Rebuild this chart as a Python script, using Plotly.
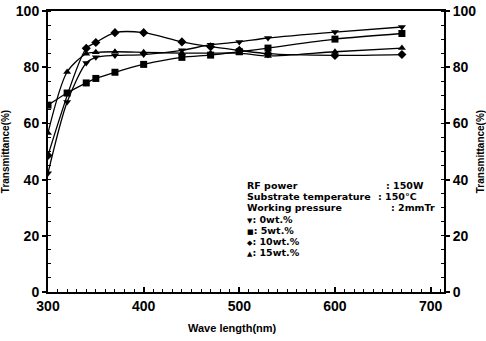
import plotly.graph_objects as go

# ---- data ----
x_0wt = [300, 320, 340, 350, 370, 400, 440, 470, 500, 530, 600, 670]
y_0wt = [42.3, 67.6, 81.5, 83.5, 84.2, 84.5, 86.0, 88.0, 89.0, 90.4, 92.5, 94.3]

x_5wt = [300, 320, 340, 350, 370, 400, 440, 470, 500, 530, 600, 670]
y_5wt = [66.5, 70.8, 74.4, 76.0, 78.2, 81.0, 83.5, 84.3, 85.5, 86.8, 90.0, 92.0]

x_10wt = [300, 340, 350, 370, 400, 440, 470, 500, 530, 600, 670]
y_10wt = [48.6, 86.7, 88.8, 92.3, 92.3, 89.0, 87.3, 86.0, 84.8, 84.2, 84.5]

x_15wt = [300, 320, 340, 350, 370, 400, 440, 470, 500, 530, 600, 670]
y_15wt = [56.6, 78.3, 84.8, 85.3, 85.5, 85.3, 85.0, 85.0, 85.0, 84.0, 85.5, 86.8]

y_ticks = [0, 20, 40, 60, 80, 100]
x_ticks = [300, 400, 500, 600, 700]

series = [
    (x_0wt, y_0wt, "triangle-down", "0wt.%"),
    (x_5wt, y_5wt, "square", "5wt.%"),
    (x_10wt, y_10wt, "diamond", "10wt.%"),
    (x_15wt, y_15wt, "triangle-up", "15wt.%"),
]

FONT = "Liberation Sans, Arial, sans-serif"
TFONT = "DejaVu Sans, sans-serif"

fig = go.Figure()
for xs, ys, sym, name in series:
    fig.add_trace(go.Scatter(
        x=xs, y=ys, mode="lines+markers", name=name,
        line=dict(color="black", width=1.3, shape="spline", smoothing=0.8),
        marker=dict(symbol=sym, size=7, color="black"),
        showlegend=False,
    ))

# invisible trace to anchor the right-hand axis
fig.add_trace(go.Scatter(x=x_0wt, y=y_0wt, yaxis="y2", mode="lines",
                         opacity=0, showlegend=False, hoverinfo="skip"))

axis_common = dict(
    showline=True, linecolor="black", linewidth=2,
    showgrid=False, zeroline=False, automargin=False,
    tickfont=dict(family=FONT, size=14, color="black"),
    ticks="outside", ticklen=4, tickwidth=1.5, tickcolor="black",
)

fig.update_layout(
    width=486, height=341,
    margin=dict(l=48, r=42, t=11, b=49),
    paper_bgcolor="white", plot_bgcolor="white",
    font=dict(family=FONT, color="black"),
    xaxis=dict(
        **{**axis_common, "ticks": "inside", "ticklen": 5},
        range=[300, 714], tickvals=x_ticks,
        ticktext=[f"<b>{v}</b>" for v in x_ticks],
        mirror=True,
        minor=dict(dtick=10, ticks="inside", ticklen=3, tickcolor="black", tickwidth=1),
    ),
    yaxis=dict(
        **axis_common,
        range=[0, 100], tickvals=y_ticks,
        ticktext=[f"<b>{v}</b>" for v in y_ticks],
        minor=dict(dtick=5, ticks="inside", ticklen=3, tickcolor="black", tickwidth=1),
        title=dict(text="<b>Transmittance(%)</b>", font=dict(family=FONT, size=10), standoff=4),
    ),
    yaxis2=dict(
        **axis_common,
        overlaying="y", side="right", anchor="x",
        range=[0, 100], tickvals=y_ticks,
        ticktext=[f"<b>{v}</b>" for v in y_ticks],
        minor=dict(dtick=5, ticks="inside", ticklen=3, tickcolor="black", tickwidth=1),
        title=dict(text="<b>Transmittance(%)</b>", font=dict(family=FONT, size=10), standoff=10),
    ),
)

# x-axis title placed as in the reference (slightly left of centre)
fig.add_annotation(text="<b>Wave length(nm)</b>", xref="paper", yref="paper",
                   x=(232 - 48) / 396, y=(292 - 328) / 281,
                   xanchor="center", yanchor="middle", showarrow=False,
                   font=dict(family=FONT, size=11, color="black"))

# condition / legend text block
def txt(s, px, py):
    fig.add_annotation(text=f"<b>{s}</b>", xref="paper", yref="paper",
                       x=(px - 48) / 396, y=(292 - py) / 281,
                       xanchor="left", yanchor="middle", showarrow=False,
                       borderpad=0, font=dict(family=TFONT, size=9.5, color="black"))

labels = ["RF power", "Substrate temperature", "Working pressure"]
values = [": 150W", ": 150°C", ": 2mmTr"]
label_y = [185, 196, 207]
value_x = [385, 377, 390]
for lab, val, py, vx in zip(labels, values, label_y, value_x):
    txt(lab, 246, py)
    txt(val, vx, py)

legend_syms = ["▼", "■", "◆", "▲"]
legend_y = [219, 230, 241, 252]
for (xs, ys, sym, name), s, py in zip(series, legend_syms, legend_y):
    txt(f"<span style='font-size:7px'>{s}</span>: {name}", 246, py)

fig.write_html("out.html")
